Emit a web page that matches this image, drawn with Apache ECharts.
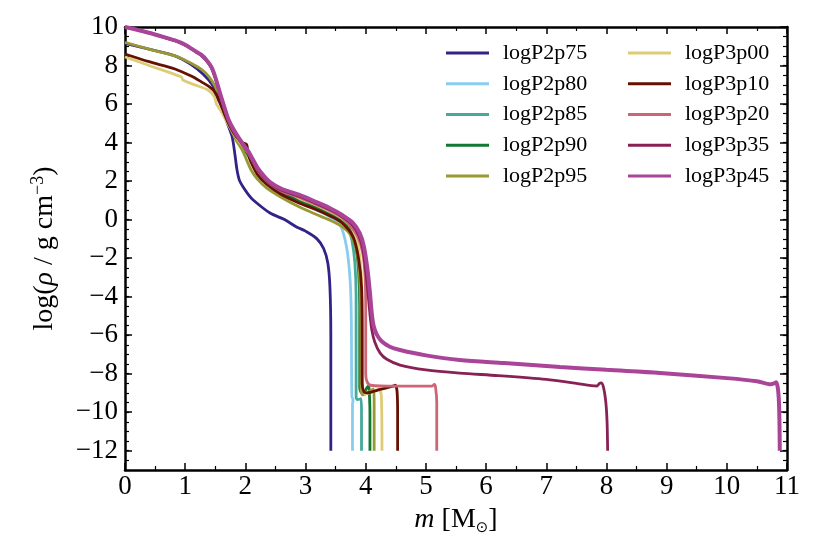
<!DOCTYPE html>
<html>
<head>
<meta charset="utf-8">
<script src="https://cdn.jsdelivr.net/npm/echarts@6/dist/echarts.min.js"></script>
<style>html,body{margin:0;padding:0;background:#fff;}#c{width:830px;height:554px;}</style>
</head>
<body>
<div id="c"></div>
<script>
// ---- data (m [Msun], log rho) ----
const names = ['logP2p75','logP2p80','logP2p85','logP2p90','logP2p95','logP3p00','logP3p10','logP3p20','logP3p35','logP3p45'];
const colors = ['#332288','#88CCEE','#44AA99','#117733','#999933','#DDCC77','#661100','#CC6677','#882255','#AA4499'];
const xTicks = [0,1,2,3,4,5,6,7,8,9,10,11];
const yTicks = [-12,-10,-8,-6,-4,-2,0,2,4,6,8,10];

const p2p75 = [[0,9.15],[0.4,8.85],[0.83,8.5],[1.1,8.05],[1.3,7.55],[1.45,7.0],[1.5,6.55],[1.6,5.9],[1.7,5.0],[1.78,4.3],[1.83,3.3],[1.86,2.6],[1.9,2.05],[1.96,1.7],[2.05,1.3],[2.13,1.02],[2.41,0.34],[2.65,0.0],[2.85,-0.38],[3.0,-0.6],[3.19,-1.0],[3.3,-1.5],[3.37,-2.25],[3.405,-3.5],[3.42,-6],[3.42,-12]];
const p2p80 = [[0,10.0],[0.3,9.78],[0.6,9.52],[0.83,9.3],[1.0,9.07],[1.19,8.7],[1.27,8.53],[1.35,8.28],[1.44,7.87],[1.51,7.27],[1.58,6.5],[1.65,5.8],[1.72,5.15],[1.8,4.5],[1.91,3.95],[2.0,3.5],[2.05,3.27],[2.12,2.85],[2.2,2.4],[2.3,2.0],[2.41,1.67],[2.6,1.28],[2.9,0.9],[3.15,0.55],[3.4,0.15],[3.57,-0.25],[3.68,-1.4],[3.74,-3.1],[3.76,-5],[3.77,-9.2],[3.79,-9.35],[3.78,-9.6],[3.78,-12]];
const p2p85 = [[0,10.0],[0.3,9.78],[0.6,9.52],[0.83,9.3],[1.0,9.07],[1.19,8.7],[1.27,8.53],[1.35,8.28],[1.44,7.87],[1.51,7.27],[1.58,6.5],[1.65,5.8],[1.72,5.15],[1.8,4.55],[1.91,4.0],[2.0,3.55],[2.05,3.32],[2.12,2.9],[2.2,2.45],[2.3,2.05],[2.41,1.72],[2.6,1.33],[2.9,0.95],[3.15,0.6],[3.4,0.25],[3.6,-0.15],[3.72,-0.6],[3.77,-1.06],[3.82,-2.27],[3.84,-4],[3.84,-9.2],[3.86,-9.35],[3.92,-9.3],[3.93,-10],[3.93,-12]];
const p2p90 = [[0,10.0],[0.3,9.78],[0.6,9.52],[0.83,9.3],[1.0,9.07],[1.19,8.7],[1.27,8.53],[1.35,8.28],[1.44,7.87],[1.51,7.27],[1.58,6.5],[1.65,5.8],[1.72,5.15],[1.8,4.55],[1.91,4.0],[2.0,3.58],[2.05,3.35],[2.12,2.95],[2.2,2.5],[2.3,2.1],[2.41,1.75],[2.6,1.38],[2.9,1.0],[3.15,0.68],[3.4,0.32],[3.6,-0.05],[3.75,-0.55],[3.83,-1.3],[3.88,-2.6],[3.9,-4.5],[3.9,-8.7],[3.93,-9.0],[3.98,-8.95],[4.02,-8.72],[4.05,-8.65],[4.06,-9.0],[4.07,-10],[4.07,-12]];
const p2p95 = [[0,9.2],[0.4,8.85],[0.83,8.5],[1.05,8.2],[1.27,7.8],[1.4,7.4],[1.5,6.9],[1.58,6.3],[1.65,5.6],[1.75,4.8],[1.85,4.1],[1.95,3.6],[2.02,3.1],[2.1,2.55],[2.2,2.1],[2.35,1.65],[2.6,1.15],[2.9,0.65],[3.15,0.3],[3.4,-0.02],[3.6,-0.35],[3.75,-0.8],[3.85,-1.6],[3.9,-3],[3.92,-6],[3.92,-8.6],[3.95,-9.1],[4.02,-9.0],[4.1,-8.85],[4.13,-8.8],[4.14,-9.5],[4.14,-12]];
const p3p00 = [[0,8.45],[0.4,8.0],[0.94,7.4],[0.96,7.25],[1.2,6.95],[1.38,6.73],[1.48,6.4],[1.52,6.0],[1.55,5.85],[1.62,5.5],[1.72,4.9],[1.85,4.25],[1.95,3.85],[2.05,3.45],[2.12,2.95],[2.2,2.55],[2.35,2.05],[2.6,1.6],[2.9,1.1],[3.15,0.78],[3.4,0.42],[3.6,0.08],[3.78,-0.5],[3.88,-1.5],[3.93,-3],[3.95,-6],[3.95,-8.7],[4.0,-9.05],[4.1,-8.95],[4.22,-8.8],[4.26,-9.2],[4.27,-12]];
const p3p10 = [[0,8.6],[0.4,8.2],[0.83,7.82],[1.1,7.45],[1.27,7.15],[1.4,6.9],[1.5,6.6],[1.58,6.1],[1.65,5.5],[1.75,4.8],[1.85,4.3],[1.95,4.0],[2.02,3.9],[2.04,3.55],[2.08,3.1],[2.2,2.35],[2.35,1.85],[2.6,1.3],[2.9,0.85],[3.15,0.55],[3.4,0.2],[3.6,-0.15],[3.79,-0.9],[3.88,-2.0],[3.93,-3.5],[3.94,-6],[3.94,-8.5],[3.97,-8.95],[4.02,-9.0],[4.2,-8.85],[4.45,-8.65],[4.49,-8.6],[4.52,-8.9],[4.53,-10],[4.53,-12]];
const p3p20 = [[0,10.0],[0.3,9.78],[0.6,9.52],[0.83,9.3],[1.0,9.07],[1.19,8.7],[1.27,8.53],[1.35,8.28],[1.44,7.87],[1.51,7.27],[1.58,6.5],[1.65,5.8],[1.72,5.15],[1.8,4.62],[1.91,4.07],[2.0,3.65],[2.05,3.45],[2.12,3.05],[2.2,2.58],[2.3,2.18],[2.41,1.85],[2.6,1.48],[2.9,1.15],[3.15,0.82],[3.4,0.47],[3.6,0.12],[3.75,-0.35],[3.87,-0.9],[3.95,-1.75],[3.99,-3.0],[4.0,-5.0],[4.0,-8.0],[4.02,-8.4],[4.08,-8.6],[4.5,-8.65],[5.0,-8.65],[5.1,-8.65],[5.14,-8.55],[5.16,-8.7],[5.18,-9.5],[5.18,-12]];
const p3p35 = [[0,10.0],[0.3,9.78],[0.6,9.52],[0.83,9.3],[1.0,9.07],[1.19,8.7],[1.27,8.53],[1.35,8.28],[1.44,7.88],[1.51,7.28],[1.58,6.5],[1.65,5.8],[1.72,5.15],[1.8,4.65],[1.91,4.1],[2.0,3.7],[2.05,3.5],[2.12,3.1],[2.2,2.62],[2.3,2.22],[2.41,1.88],[2.6,1.52],[2.9,1.2],[3.15,0.87],[3.4,0.52],[3.6,0.17],[3.78,-0.28],[3.88,-0.8],[3.95,-1.5],[4.0,-2.7],[4.04,-3.9],[4.07,-4.9],[4.1,-5.7],[4.15,-6.35],[4.24,-6.93],[4.35,-7.25],[4.57,-7.55],[5.0,-7.8],[5.56,-7.97],[6.2,-8.1],[7.0,-8.3],[7.5,-8.5],[7.84,-8.64],[7.88,-8.52],[7.91,-8.48],[7.95,-8.7],[7.99,-9.5],[8.01,-10.5],[8.02,-12]];
const p3p45 = [[0,10.0],[0.3,9.78],[0.6,9.52],[0.83,9.3],[1.0,9.08],[1.19,8.7],[1.27,8.55],[1.35,8.3],[1.44,7.9],[1.51,7.3],[1.58,6.55],[1.65,5.85],[1.72,5.2],[1.8,4.7],[1.91,4.15],[2.0,3.75],[2.05,3.55],[2.12,3.15],[2.2,2.7],[2.3,2.3],[2.41,1.95],[2.6,1.6],[2.9,1.28],[3.15,0.95],[3.4,0.6],[3.6,0.25],[3.79,-0.18],[3.9,-0.7],[3.97,-1.4],[4.03,-2.6],[4.07,-3.8],[4.1,-4.85],[4.13,-5.5],[4.18,-5.95],[4.26,-6.3],[4.4,-6.6],[4.57,-6.77],[5.0,-7.05],[5.56,-7.29],[6.3,-7.45],[7.23,-7.65],[8.0,-7.8],[8.89,-7.96],[10.0,-8.23],[10.5,-8.39],[10.73,-8.55],[10.79,-8.5],[10.82,-8.45],[10.85,-8.8],[10.87,-9.8],[10.88,-12]];
const seriesData = [p2p75,p2p80,p2p85,p2p90,p2p95,p3p00,p3p10,p3p20,p3p35,p3p45];

// ---- chart ----
const FONT = 'Liberation Serif';
const minus = v => String(v).replace('-', '\u2212');
const chart = echarts.init(document.getElementById('c'), null, {renderer: 'canvas'});

const frame = {show: true, onZero: false, lineStyle: {color: '#000', width: 2.5}};
const majorTick = {show: true, inside: true, length: 7, lineStyle: {color: '#000', width: 1.5}};
const minorTickX = {show: true, splitNumber: 2, length: 4, lineStyle: {color: '#000', width: 1.2}};

function yMajor(pos, labels) {
  return {
    type: 'value', position: pos, min: -13, max: 10, gridIndex: 0,
    axisLine: frame, splitLine: {show: false},
    axisTick: Object.assign({}, majorTick, {customValues: yTicks}),
    axisLabel: labels ? {show: true, customValues: yTicks, formatter: minus, fontFamily: FONT, fontSize: 27, color: '#000', margin: 7} : {show: false}
  };
}
function yMinor(pos) {
  return {
    type: 'value', position: pos, min: -13, max: 10, interval: 0.5, gridIndex: 0,
    axisLine: {show: false, onZero: false}, splitLine: {show: false},
    axisTick: {show: true, inside: true, length: 4, lineStyle: {color: '#000', width: 1.2}},
    axisLabel: {show: false}
  };
}

const yLeft = yMajor('left', true);
yLeft.name = '{t|log(}{i|\u03c1}{t| / g cm}{sup|\u22123}{t|)}';
yLeft.nameLocation = 'middle';
yLeft.nameGap = 64;
yLeft.nameTextStyle = {
  fontFamily: FONT, fontSize: 28, color: '#000',
  rich: {
    t: {fontFamily: FONT, fontSize: 28, color: '#000', lineHeight: 32},
    i: {fontFamily: FONT, fontSize: 28, fontStyle: 'italic', color: '#000', lineHeight: 32},
    sup: {fontFamily: FONT, fontSize: 18, color: '#000', verticalAlign: 'top', lineHeight: 18}
  }
};

const series = names.map((n, i) => ({
  name: n, type: 'line', data: seriesData[i], xAxisIndex: 0, yAxisIndex: 0,
  showSymbol: false, symbol: 'none', smooth: 0.3,
  lineStyle: {color: colors[i], width: i === 9 ? 4 : 2.8},
  itemStyle: {color: colors[i]},
  z: 2 + i
}));

const legendBase = {
  orient: 'vertical', padding: 0, itemWidth: 43, itemHeight: 3, itemGap: 8.75, icon: 'rect',
  textStyle: {fontFamily: FONT, fontSize: 22, color: '#000', lineHeight: 22, padding: [0, 0, 0, 9]}
};

chart.setOption({
  animation: false,
  backgroundColor: '#fff',
  grid: {left: 125, right: 43, top: 27, bottom: 84, containLabel: false},
  legend: [
    Object.assign({}, legendBase, {data: names.slice(0, 5), left: 446, top: 42}),
    Object.assign({}, legendBase, {data: names.slice(5), left: 628, top: 42})
  ],
  xAxis: [
    {
      type: 'value', position: 'bottom', min: 0, max: 11, interval: 1,
      axisLine: frame, splitLine: {show: false},
      axisTick: majorTick, minorTick: minorTickX,
      axisLabel: {fontFamily: FONT, fontSize: 27, color: '#000', margin: 3, customValues: xTicks},
      name: '{i|m} [M{sub|\u2299}]', nameLocation: 'middle', nameGap: 34,
      nameTextStyle: {
        fontFamily: FONT, fontSize: 28, color: '#000',
        rich: {
          i: {fontFamily: FONT, fontSize: 28, fontStyle: 'italic', color: '#000', lineHeight: 32},
          sub: {fontFamily: 'DejaVu Sans', fontSize: 15, color: '#000', verticalAlign: 'bottom', lineHeight: 15}
        }
      }
    },
    {
      type: 'value', position: 'top', min: 0, max: 11, interval: 1,
      axisLine: frame, splitLine: {show: false},
      axisTick: majorTick, minorTick: minorTickX,
      axisLabel: {show: false}
    }
  ],
  yAxis: [yLeft, yMajor('right', false), yMinor('left'), yMinor('right')],
  series: series
});
</script>
</body>
</html>
